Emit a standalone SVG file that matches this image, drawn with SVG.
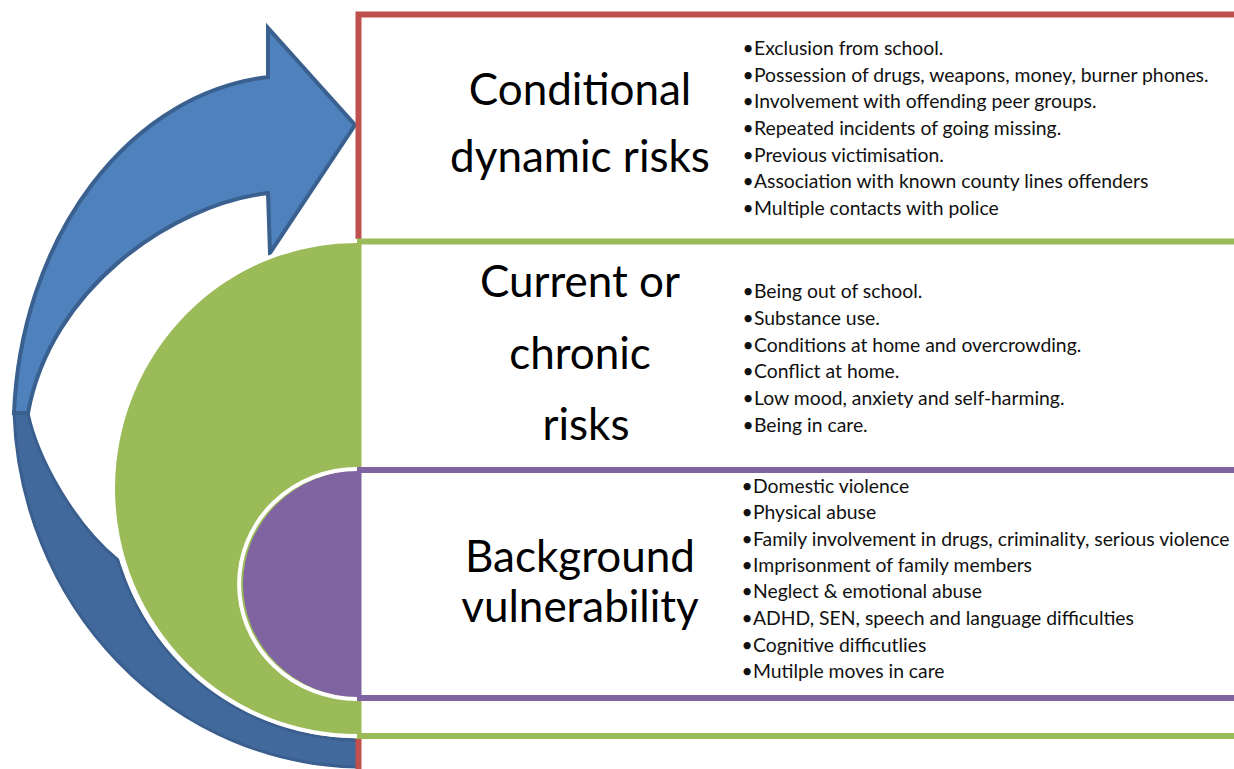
<svg xmlns="http://www.w3.org/2000/svg" width="1234" height="769" viewBox="0 0 1234 769">
  <style>
    .title { font-family: Lato, "Liberation Sans", sans-serif; font-size: 44px; fill: #000; text-anchor: middle; }
    .item { font-family: Lato, "Liberation Sans", sans-serif; font-size: 19.35px; fill: #111; }
    .box { fill: #fff; stroke-width: 6; }
    .gap { fill: none; stroke: #fff; stroke-width: 4; }
  </style>
  <rect width="1234" height="769" fill="#fff"/>

  <g id="connectors">
    <g id="cycle-arrow">
      <path id="arrow-back" d="M 28,413 C 38,460 75,525 118,560 A 252 252 0 0 0 357,740 L 357,767 A 349 367 0 0 1 14,413 Z" fill="#41699B" stroke="#3A5F8E" stroke-width="3"/>
      <path id="arrow-front" d="M 14,413 A 280 356 0 0 1 268,77 L 268,28 L 355,125 L 270,253 L 268,193 C 170,205 50,290 28,413 Z" fill="#4F81BD" stroke="#3A6090" stroke-width="4" stroke-linejoin="miter"/>
    </g>
  </g>

  <g id="node-conditional">
    <rect class="box" x="358.5" y="14.5" width="900" height="800" stroke="#C0504D"/>
  </g>

  <g id="node-current">
    <rect class="box" x="358.5" y="241.5" width="900" height="494.5" stroke="#9BBB59"/>
    <path d="M 361,241 A 246 247.5 0 0 0 361,736 Z" fill="#9BBB59"/>
    <path class="gap" d="M 357,241 A 246 247.5 0 0 0 357,736"/>
  </g>

  <g id="node-background">
    <rect class="box" x="358.5" y="470" width="900" height="228" stroke="#8064A2"/>
    <path d="M 361,470 A 118 114 0 0 0 361,698 Z" fill="#8064A2"/>
    <path class="gap" d="M 357,469 A 118 115 0 0 0 357,699"/>
  </g>

  <g id="text-conditional">
    <text class="title" x="580" y="105">Conditional</text>
    <text class="title" x="580" y="172">dynamic risks</text>
    <text class="item"><tspan x="742.5" y="55">•</tspan><tspan x="754">Exclusion from school.</tspan></text>
    <text class="item"><tspan x="742.5" y="81.7">•</tspan><tspan x="754">Possession of drugs, weapons, money, burner phones.</tspan></text>
    <text class="item"><tspan x="742.5" y="108.3">•</tspan><tspan x="754">Involvement with offending peer groups.</tspan></text>
    <text class="item"><tspan x="742.5" y="135">•</tspan><tspan x="754">Repeated incidents of going missing.</tspan></text>
    <text class="item"><tspan x="742.5" y="161.7">•</tspan><tspan x="754">Previous victimisation.</tspan></text>
    <text class="item"><tspan x="742.5" y="188.3">•</tspan><tspan x="754">Association with known county lines offenders</tspan></text>
    <text class="item"><tspan x="742.5" y="215">•</tspan><tspan x="754">Multiple contacts with police</tspan></text>
  </g>

  <g id="text-current">
    <text class="title" x="580" y="297">Current or</text>
    <text class="title" x="580" y="369">chronic</text>
    <text class="title" x="586" y="440">risks</text>
    <text class="item"><tspan x="742.5" y="298.3">•</tspan><tspan x="754">Being out of school.</tspan></text>
    <text class="item"><tspan x="742.5" y="325">•</tspan><tspan x="754">Substance use.</tspan></text>
    <text class="item"><tspan x="742.5" y="351.7">•</tspan><tspan x="754">Conditions at home and overcrowding.</tspan></text>
    <text class="item"><tspan x="742.5" y="378.3">•</tspan><tspan x="754">Conflict at home.</tspan></text>
    <text class="item"><tspan x="742.5" y="405">•</tspan><tspan x="754">Low mood, anxiety and self-harming.</tspan></text>
    <text class="item"><tspan x="742.5" y="431.7">•</tspan><tspan x="754">Being in care.</tspan></text>
  </g>

  <g id="text-background">
    <text class="title" x="580" y="572">Background</text>
    <text class="title" x="580" y="622">vulnerability</text>
    <text class="item"><tspan x="741.5" y="492.7">•</tspan><tspan x="753">Domestic violence</tspan></text>
    <text class="item"><tspan x="741.5" y="519.3">•</tspan><tspan x="753">Physical abuse</tspan></text>
    <text class="item"><tspan x="741.5" y="546">•</tspan><tspan x="753">Family involvement in drugs, criminality, serious violence</tspan></text>
    <text class="item"><tspan x="741.5" y="571.7">•</tspan><tspan x="753">Imprisonment of family members</tspan></text>
    <text class="item"><tspan x="741.5" y="598.3">•</tspan><tspan x="753">Neglect &amp; emotional abuse</tspan></text>
    <text class="item"><tspan x="741.5" y="625">•</tspan><tspan x="753">ADHD, SEN, speech and language difficulties</tspan></text>
    <text class="item"><tspan x="741.5" y="651.7">•</tspan><tspan x="753">Cognitive difficutlies</tspan></text>
    <text class="item"><tspan x="741.5" y="678.3">•</tspan><tspan x="753">Mutilple moves in care</tspan></text>
  </g>
</svg>
